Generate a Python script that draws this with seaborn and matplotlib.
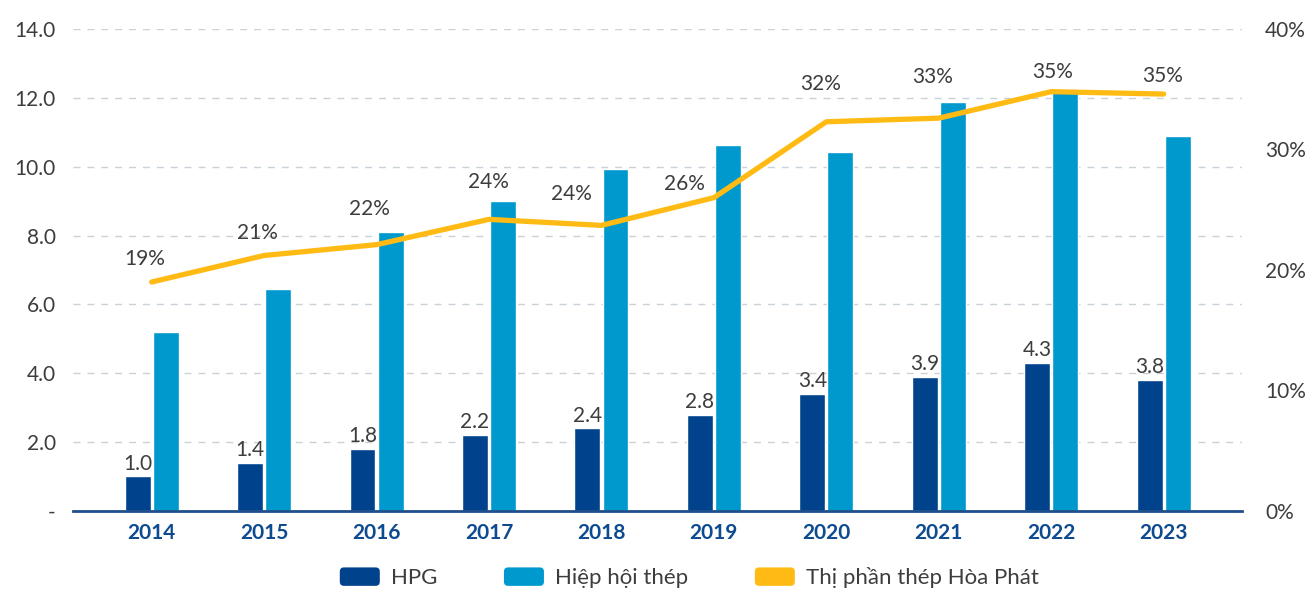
import matplotlib
matplotlib.use("Agg")
import matplotlib.pyplot as plt
import matplotlib.ticker as mticker
from matplotlib.patches import Patch, FancyBboxPatch
from matplotlib.legend_handler import HandlerPatch
import seaborn as sns
import pandas as pd
import numpy as np

# data
years = ["2014", "2015", "2016", "2017", "2018", "2019", "2020", "2021", "2022", "2023"]
hpg = [1.0, 1.4, 1.8, 2.2, 2.4, 2.8, 3.4, 3.9, 4.3, 3.8]
hiep_hoi = [5.2, 6.45, 8.1, 9.0, 9.93, 10.63, 10.43, 11.88, 12.23, 10.89]
thi_phan = [0.190, 0.212, 0.221, 0.242, 0.237, 0.260, 0.323, 0.326, 0.348, 0.346]

series_names = ["HPG", "Hiệp hội thép", "Thị phần thép Hòa Phát"]
colors = {"HPG": "#00438c", "Hiệp hội thép": "#0099ce", "Thị phần thép Hòa Phát": "#ffbb14"}

# nudges (px) for the % labels so they dodge the bars, like the original
pct_label_nudge = [(-7, 23), (-7, 22), (-7, 36), (-1, 37), (-30, 31),
                   (-29, 14), (-6, 38), (-6, 41), (1, 20), (-1, 18)]

df = pd.DataFrame({
    "Năm": years * 2,
    "Series": [series_names[0]] * len(years) + [series_names[1]] * len(years),
    "Value": hpg + hiep_hoi,
})

sns.set_style("white")
plt.rcParams["font.family"] = ["Lato", "DejaVu Sans"]
text_col = "#3d3d3d"
axis_blue = "#0d4a8f"

fig = plt.figure(figsize=(13.08, 5.92), dpi=100)
ax = fig.add_axes([0.0558, 0.137, 0.894, 0.814])

sns.barplot(data=df, x="Năm", y="Value", hue="Series", palette=colors, saturation=1,
            width=0.5, gap=0.08, legend=False, ax=ax, zorder=2)

ax.set_xlim(-0.70, len(years) - 0.30)
ax.set_ylim(0, 14)
ax.set_yticks(np.arange(0, 15, 2))
ax.yaxis.set_major_formatter(mticker.FuncFormatter(lambda v, p: "-" if v == 0 else f"{v:.1f}"))
ax.grid(axis="y", color="#c9d1d9", linestyle=(0, (5, 5)), linewidth=1, zorder=0)
ax.set_axisbelow(True)
ax.set_xlabel("")
ax.set_ylabel("")
for s in ["top", "right", "left"]:
    ax.spines[s].set_visible(False)
ax.spines["bottom"].set_color("#1f4e8c")
ax.spines["bottom"].set_linewidth(2)
ax.tick_params(axis="both", length=0)
ax.tick_params(axis="y", labelsize=15, labelcolor=text_col, pad=12.5)
ax.tick_params(axis="x", labelsize=15, labelcolor=axis_blue, pad=9)
for lbl in ax.get_xticklabels():
    lbl.set_fontweight("bold")

# HPG value labels
hpg_bars = ax.containers[0]
for bar, v in zip(hpg_bars, hpg):
    ax.annotate(f"{v:.1f}", (bar.get_x() + bar.get_width() / 2, bar.get_height()),
                xytext=(0, 2), textcoords="offset points", ha="center", va="bottom",
                fontsize=15, color=text_col)

# market share line on right axis
ax2 = ax.twinx()
xpos = np.arange(len(years))
sns.lineplot(x=xpos, y=thi_phan, ax=ax2, color=colors["Thị phần thép Hòa Phát"],
             linewidth=3.8, solid_capstyle="round", solid_joinstyle="round")
ax2.set_ylim(0, 0.4)
ax2.set_yticks(np.arange(0, 0.41, 0.1))
ax2.yaxis.set_major_formatter(mticker.PercentFormatter(1.0, decimals=0))
ax2.tick_params(axis="y", length=0, labelsize=15, labelcolor=text_col, pad=16.5)
for s in ["top", "right", "left", "bottom"]:
    ax2.spines[s].set_visible(False)
ax2.grid(False)

for x, v, (dx, dy) in zip(xpos, thi_phan, pct_label_nudge):
    ax2.annotate(f"{v * 100:.0f}%", (x, v), xytext=(dx * 0.72, dy * 0.72),
                 textcoords="offset points", ha="center", va="center",
                 fontsize=15, color=text_col)


def rounded_patch(legend, orig_handle, xdescent, ydescent, width, height, fontsize):
    return FancyBboxPatch((-xdescent, -ydescent), width, height,
                          boxstyle="round,pad=0,rounding_size=3")


handles = [Patch(facecolor=colors[n], edgecolor="none", label=n) for n in series_names]
fig.legend(handles=handles, loc="center", bbox_to_anchor=(0.527, 0.024), ncol=3,
           frameon=False, fontsize=16, handlelength=1.8, handleheight=0.9,
           handletextpad=0.5, columnspacing=3.0, labelcolor=text_col,
           handler_map={Patch: HandlerPatch(patch_func=rounded_patch)})

fig.savefig("out.png", dpi=100)
